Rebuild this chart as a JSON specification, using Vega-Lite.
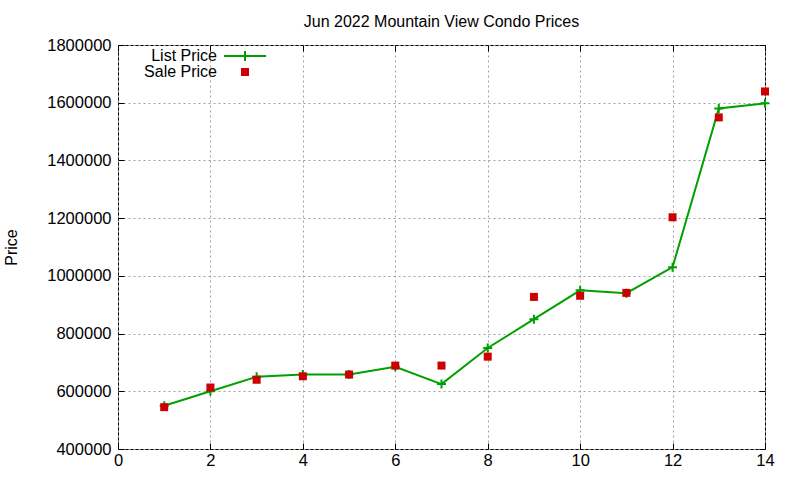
{
  "$schema": "https://vega.github.io/schema/vega-lite/v6.json",
  "width": 647,
  "height": 404,
  "autosize": {"type": "none"},
  "padding": {"left": 118, "top": 45, "right": 35, "bottom": 31},
  "background": "white",
  "title": {
    "text": "Jun 2022 Mountain View Condo Prices",
    "font": "Liberation Sans",
    "fontSize": 16,
    "fontWeight": "normal",
    "color": "black",
    "baseline": "alphabetic",
    "offset": -6
  },
  "config": {
    "view": {"stroke": "black", "strokeWidth": 1},
    "font": "Liberation Sans",
    "axis": {
      "labelFont": "Liberation Sans",
      "labelFontSize": 16.5,
      "labelColor": "black",
      "domain": false,
      "ticks": true,
      "tickColor": "black",
      "tickSize": -6,
      "tickWidth": 1,
      "gridColor": "#a0a0a0",
      "gridDash": [2, 3],
      "gridWidth": 1,
      "gridOpacity": 1,
      "titleFont": "Liberation Sans",
      "titleFontSize": 16,
      "titleFontWeight": "normal",
      "titleColor": "black"
    }
  },
  "data": {
    "values": [
      {"x": 1, "series": "List Price", "price": 550000},
      {"x": 2, "series": "List Price", "price": 600000},
      {"x": 3, "series": "List Price", "price": 650000},
      {"x": 4, "series": "List Price", "price": 658000},
      {"x": 5, "series": "List Price", "price": 658000},
      {"x": 6, "series": "List Price", "price": 685000},
      {"x": 7, "series": "List Price", "price": 625000},
      {"x": 8, "series": "List Price", "price": 750000},
      {"x": 9, "series": "List Price", "price": 850000},
      {"x": 10, "series": "List Price", "price": 950000},
      {"x": 11, "series": "List Price", "price": 940000},
      {"x": 12, "series": "List Price", "price": 1030000},
      {"x": 13, "series": "List Price", "price": 1580000},
      {"x": 14, "series": "List Price", "price": 1598000},
      {"x": 1, "series": "Sale Price", "price": 545000},
      {"x": 2, "series": "Sale Price", "price": 613000},
      {"x": 3, "series": "Sale Price", "price": 640000},
      {"x": 4, "series": "Sale Price", "price": 652000},
      {"x": 5, "series": "Sale Price", "price": 658000},
      {"x": 6, "series": "Sale Price", "price": 689000},
      {"x": 7, "series": "Sale Price", "price": 689000},
      {"x": 8, "series": "Sale Price", "price": 720000},
      {"x": 9, "series": "Sale Price", "price": 927000},
      {"x": 10, "series": "Sale Price", "price": 931000},
      {"x": 11, "series": "Sale Price", "price": 941000},
      {"x": 12, "series": "Sale Price", "price": 1203000},
      {"x": 13, "series": "Sale Price", "price": 1549000},
      {"x": 14, "series": "Sale Price", "price": 1639000}
    ]
  },
  "resolve": {"axis": {"x": "independent", "y": "independent"}},
  "layer": [
    {
      "transform": [{"filter": "datum.series == 'List Price'"}],
      "mark": {"type": "line", "color": "#00a000", "strokeWidth": 2},
      "encoding": {
        "x": {
          "field": "x", "type": "quantitative",
          "scale": {"domain": [0, 14], "nice": false, "zero": false},
          "axis": {"orient": "bottom", "values": [0, 2, 4, 6, 8, 10, 12, 14], "grid": true, "title": null, "labelPadding": 9, "labelFlush": false}
        },
        "y": {
          "field": "price", "type": "quantitative",
          "scale": {"domain": [400000, 1800000], "nice": false, "zero": false},
          "axis": {"orient": "left", "values": [400000, 600000, 800000, 1000000, 1200000, 1400000, 1600000, 1800000], "format": "d", "grid": true, "title": "Price", "titlePadding": 27, "labelPadding": 13}
        }
      }
    },
    {
      "transform": [{"filter": "datum.series == 'List Price'"}],
      "mark": {"type": "point", "shape": "M-1,0H1M0,-1V1", "filled": false, "color": "#00a000", "strokeWidth": 2, "size": 81, "opacity": 1},
      "encoding": {
        "x": {"field": "x", "type": "quantitative", "axis": null},
        "y": {"field": "price", "type": "quantitative", "axis": null}
      }
    },
    {
      "transform": [{"filter": "datum.series == 'Sale Price'"}],
      "mark": {"type": "point", "filled": true, "opacity": 1, "size": 100},
      "encoding": {
        "x": {
          "field": "x", "type": "quantitative",
          "axis": {"orient": "top", "values": [0, 2, 4, 6, 8, 10, 12, 14], "labels": false, "grid": false, "title": null}
        },
        "y": {
          "field": "price", "type": "quantitative",
          "axis": {"orient": "right", "values": [400000, 600000, 800000, 1000000, 1200000, 1400000, 1600000, 1800000], "labels": false, "grid": false, "title": null}
        },
        "color": {
          "field": "series", "type": "nominal",
          "scale": {"domain": ["List Price", "Sale Price"], "range": ["#00a000", "#cc0000"]},
          "legend": {
            "orient": "none",
            "legendX": 119,
            "legendY": 3,
            "title": null,
            "padding": 0,
            "labelFont": "Liberation Sans",
            "labelFontSize": 16,
            "labelColor": "black",
            "labelAlign": "right",
            "labelOffset": -36,
            "symbolSize": 100,
            "symbolStrokeWidth": 0,
            "rowPadding": 0
          }
        },
        "shape": {
          "field": "series", "type": "nominal",
          "scale": {"domain": ["List Price", "Sale Price"], "range": ["M-4.2,-0.2H4.2V0.2H-4.2Z M-0.2,-1H0.2V1H-0.2Z", "M-0.8,-0.8H0.8V0.8H-0.8Z"]},
          "legend": null
        }
      }
    }
  ]
}
